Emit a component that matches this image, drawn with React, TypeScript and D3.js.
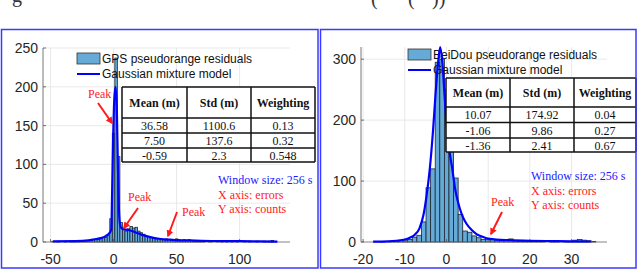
import React from 'react';
import * as d3 from 'd3';

const W = 640;
const H = 270;

// ── GPS residual histogram (bins of 2 m, first edge at -49 m) ──
const gpsBinStart = -49;
const gpsBinWidth = 2;
const gpsCounts = [
  1, 0, 1, 0, 0, 1, 0, 1, 1, 1,
  1, 2, 1, 2, 2, 2, 3, 4, 5, 5,
  6, 6, 8, 30, 140, 237, 110, 25, 16, 14,
  17, 20, 18, 19, 14, 12, 10, 8, 7, 6,
  5, 4, 4, 3, 3, 4, 3, 2, 3, 4,
  3, 2, 3, 2, 3, 2, 1, 1, 1, 1,
  1, 0, 1, 1, 0, 1, 0, 1, 0, 1,
  0, 1, 0, 1, 0, 0, 1, 0, 1, 0,
  0, 1, 0, 0, 1, 0, 1, 2, 0,
];
const gpsCurveX = [-48, -30, -20, -15, -10, -6, -3, -1.8, -1.2, -0.4, 0.6, 1.6, 2.6, 3.4, 4.2, 5.2, 6.5, 10, 14, 18, 22, 26, 30, 35, 40, 45, 50, 60, 70, 85, 100, 115, 130];
const gpsCurveY = [0.8, 1, 2, 3.5, 5, 8, 12, 16, 60, 130, 185, 200, 170, 100, 45, 22, 17.5, 16, 14.5, 12, 9.5, 7.5, 6, 4.5, 3.5, 3, 2.5, 2, 1.5, 1.2, 1, 0.8, 0.6];

// ── BeiDou residual histogram (bins of 1.1 m) ──
const bdsBinStart = -18.1;
const bdsBinWidth = 1.1;
const bdsCounts = [
  0, 0, 1, 0, 1, 1, 2, 2, 4, 8,
  11, 33, 89, 120, 295, 300, 250, 180, 105, 45,
  18, 16, 10, 7, 4, 5, 4, 2, 2, 3,
  5, 2, 1, 1, 2, 1, 1, 1, 0, 1,
  1, 0, 1, 1, 3, 4, 3, 2, 1, 0,
];
const bdsCurveX = [-17.6, -14, -12, -10, -8.8, -7.6, -6.5, -5.5, -4.8, -4, -3.2, -2.6, -2, -1.5, -1, -0.4, 0.2, 0.8, 1.4, 2, 2.6, 3.2, 4, 4.8, 6, 7.2, 8.5, 9.6, 12, 15, 20, 25, 30, 34.6];
const bdsCurveY = [0.5, 1, 2, 4, 7, 12, 22, 45, 75, 120, 185, 245, 295, 320, 295, 235, 180, 145, 120, 90, 70, 55, 40, 30, 20, 13, 9, 6, 4, 3, 2, 1.5, 1, 0.8];

const gpsXTicks = [-50, 0, 50, 100];
const gpsYTicks = [0, 50, 100, 150, 200, 250];
const bdsXTicks = [-20, -10, 0, 10, 20, 30];
const bdsYTicks = [0, 100, 200, 300];

const tableHeader = ['Mean (m)', 'Std (m)', 'Weighting'];
const gpsTable = [
  ['36.58', '1100.6', '0.13'],
  ['7.50', '137.6', '0.32'],
  ['-0.59', '2.3', '0.548'],
];
const bdsTable = [
  ['10.07', '174.92', '0.04'],
  ['-1.06', '9.86', '0.27'],
  ['-1.36', '2.41', '0.67'],
];

const SANS = '"Liberation Sans", Arial, sans-serif';
const SERIF = '"Liberation Serif", "Times New Roman", serif';
const BAR_FILL = '#66aad7';
const RED = '#ff1a1a';
const BLUE = '#1a1aff';

function Panel({ xDomain, xRange, yDomain, yRange, xTicks, yTicks, binStart, binWidth, counts, curveX, curveY, barStroke, label }) {
  const x = d3.scaleLinear().domain(xDomain).range(xRange);
  const y = d3.scaleLinear().domain(yDomain).range(yRange);
  const line = d3.line<number>()
    .x((_, i) => x(curveX[i]))
    .y(d => y(d))
    .curve(d3.curveMonotoneX);
  const [x0, x1] = xRange;
  const [yb, yt] = yRange;

  return (
    <g>
      {/* grid */}
      {xTicks.map(t => (
        <line key={'gx' + t} x1={x(t)} x2={x(t)} y1={yb} y2={yt} stroke="#e3e3e3" strokeWidth={0.8} />
      ))}
      {yTicks.map(t => (
        <line key={'gy' + t} x1={x0} x2={x1} y1={y(t)} y2={y(t)} stroke="#e3e3e3" strokeWidth={0.8} />
      ))}

      {/* bars */}
      {counts.map((c, i) => c > 0 && (
        <rect key={'b' + i}
          x={x(binStart + i * binWidth)}
          width={x(binStart + (i + 1) * binWidth) - x(binStart + i * binWidth)}
          y={y(c)} height={y(0) - y(c)}
          fill={BAR_FILL} stroke="#1c2730" strokeWidth={barStroke} />
      ))}

      {/* axes */}
      <line x1={x0} x2={x1} y1={yb} y2={yb} stroke="#777" strokeWidth={0.8} />
      <line x1={x0} x2={x0} y1={yb} y2={yt} stroke="#555" strokeWidth={0.8} />
      {xTicks.map(t => (
        <g key={'tx' + t}>
          <line x1={x(t)} x2={x(t)} y1={yb} y2={yb - 3} stroke="#555" strokeWidth={0.8} />
          <text x={x(t)} y={264} textAnchor="middle" fontFamily={SANS} fontSize={14} fill="#262626">{String(t)}</text>
        </g>
      ))}
      {yTicks.map(t => (
        <g key={'ty' + t}>
          <line x1={x0} x2={x0 + 3} y1={y(t)} y2={y(t)} stroke="#555" strokeWidth={0.8} />
          <text x={x0 - 5} y={y(t) + 5} textAnchor="end" fontFamily={SANS} fontSize={14} fill="#262626">{String(t)}</text>
        </g>
      ))}

      {/* legend */}
      <rect x={label.x} y={label.y} width={23} height={11} fill={BAR_FILL} stroke="#333" strokeWidth={0.8} />
      <text x={label.x + 25} y={label.y + 10} fontFamily={SANS} fontSize={12} fill="#111">{label.text}</text>
      <line x1={label.x} x2={label.x + 23} y1={label.y + 21} y2={label.y + 21} stroke="#0000ff" strokeWidth={2} />
      <text x={label.x + 25} y={label.y + 25} fontFamily={SANS} fontSize={12} fill="#111">Gaussian mixture model</text>

      {/* fitted curve */}
      <path d={line(curveY) || ''} fill="none" stroke="#0000ff" strokeWidth={2.2} />
    </g>
  );
}

function Table({ cols, rows, body }) {
  return (
    <g>
      <rect x={cols[0]} y={rows[0]} width={cols[3] - cols[0]} height={rows[4] - rows[0]} fill="#fff" />
      {tableHeader.map((h, j) => (
        <text key={h} x={(cols[j] + cols[j + 1]) / 2} y={(rows[0] + rows[1]) / 2 + 4.5} textAnchor="middle"
          fontFamily={SERIF} fontWeight="bold" fontSize={12} fill="#111">{h}</text>
      ))}
      {body.map((r, i) => r.map((v, j) => (
        <text key={i + '-' + j} x={(cols[j] + cols[j + 1]) / 2} y={(rows[i + 1] + rows[i + 2]) / 2 + 4.5} textAnchor="middle"
          fontFamily={SERIF} fontSize={12} fill="#111">{v}</text>
      )))}
      {rows.map((r, i) => (
        <line key={'r' + i} x1={cols[0]} x2={cols[3]} y1={r} y2={r} stroke="#111" strokeWidth={1.5} />
      ))}
      {cols.map((c, i) => (
        <line key={'c' + i} x1={c} x2={c} y1={rows[0]} y2={rows[4]} stroke="#111" strokeWidth={1.5} />
      ))}
    </g>
  );
}

function Arrow({ x1, y1, x2, y2 }) {
  return <line x1={x1} y1={y1} x2={x2} y2={y2} stroke={RED} strokeWidth={2} markerEnd="url(#head)" />;
}

function Notes({ x, y }) {
  return (
    <g fontFamily={SERIF} fontSize={12}>
      <text x={x} y={y} fill={BLUE}>Window size: 256 s</text>
      <text x={x} y={y + 14.5} fill={RED}>X axis: errors</text>
      <text x={x} y={y + 29} fill={RED}>Y axis: counts</text>
    </g>
  );
}

export default function App() {
  return (
    <svg width={W} height={H} style={{ position: 'absolute', left: 0, top: 0, background: '#fff' }}>
      <defs>
        <marker id="head" viewBox="0 0 10 10" refX={8} refY={5} markerWidth={3.5} markerHeight={3.5} orient="auto">
          <path d="M0,0 L10,5 L0,10 z" fill={RED} />
        </marker>
      </defs>
      <rect width={W} height={H} fill="#fff" />

      {/* caption fragments cut off at the top, as in the source figure */}
      <g fontFamily={SERIF} fontSize={20} fill="#333">
        <text x={12} y={2}>g</text>
        <text x={371} y={5}>(</text>
        <text x={408} y={5}>(</text>
        <text x={432} y={5}>))</text>
      </g>

      <Panel xDomain={[-56, 140]} xRange={[43, 290]} yDomain={[0, 250]} yRange={[242, 48]}
        xTicks={gpsXTicks} yTicks={gpsYTicks}
        binStart={gpsBinStart} binWidth={gpsBinWidth} counts={gpsCounts}
        curveX={gpsCurveX} curveY={gpsCurveY} barStroke={0.8}
        label={{ x: 77, y: 53, text: 'GPS pseudorange residuals' }} />
      <Table cols={[122, 187, 251, 315]} rows={[87, 118, 133, 148, 162]} body={gpsTable} />
      <Notes x={218} y={184} />
      <g fontFamily={SERIF} fontSize={12} fill={RED}>
        <text x={88} y={98}>Peak</text>
        <text x={128} y={201}>Peak</text>
        <text x={182} y={216}>Peak</text>
      </g>
      <Arrow x1={98} y1={103} x2={112} y2={123} />
      <Arrow x1={138} y1={208} x2={124} y2={228} />
      <Arrow x1={177} y1={212} x2={168} y2={236} />

      <Panel xDomain={[-20.5, 38.5]} xRange={[361, 607]} yDomain={[0, 320]} yRange={[242, 47]}
        xTicks={bdsXTicks} yTicks={bdsYTicks}
        binStart={bdsBinStart} binWidth={bdsBinWidth} counts={bdsCounts}
        curveX={bdsCurveX} curveY={bdsCurveY} barStroke={0.8}
        label={{ x: 408, y: 49, text: 'BeiDou pseudorange residuals' }} />
      <Table cols={[446, 510, 574, 636]} rows={[78, 107, 122.5, 138, 152]} body={bdsTable} />
      <Notes x={531} y={180} />
      <text x={491} y={206} fontFamily={SERIF} fontSize={12} fill={RED}>Peak</text>
      <Arrow x1={502} y1={212} x2={491} y2={234} />

      {/* panel frames */}
      <rect x={1.5} y={29.5} width={316.5} height={238.5} fill="none" stroke="#3a3aff" strokeWidth={1.5} />
      <rect x={320.5} y={29.5} width={315.5} height={238.5} fill="none" stroke="#3a3aff" strokeWidth={1.5} />
    </svg>
  );
}
